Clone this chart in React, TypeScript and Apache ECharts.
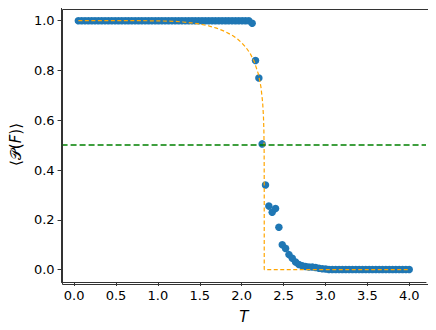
import React, { useEffect, useRef } from "react";
import * as echarts from "echarts";

const temps = [
  0.050, 0.090, 0.130, 0.170, 0.210, 0.249, 0.289, 0.329, 0.369, 0.409,
  0.449, 0.489, 0.529, 0.569, 0.609, 0.648, 0.688, 0.728, 0.768, 0.808,
  0.848, 0.888, 0.928, 0.968, 1.008, 1.047, 1.087, 1.127, 1.167, 1.207,
  1.247, 1.287, 1.327, 1.367, 1.407, 1.446, 1.486, 1.526, 1.566, 1.606,
  1.646, 1.686, 1.726, 1.766, 1.806, 1.845, 1.885, 1.925, 1.965, 2.005,
  2.045, 2.085, 2.125, 2.165, 2.205, 2.244, 2.284, 2.324, 2.364, 2.404,
  2.444, 2.484, 2.524, 2.564, 2.604, 2.643, 2.683, 2.723, 2.763, 2.803,
  2.843, 2.883, 2.923, 2.963, 3.003, 3.042, 3.082, 3.122, 3.162, 3.202,
  3.242, 3.282, 3.322, 3.362, 3.402, 3.441, 3.481, 3.521, 3.561, 3.601,
  3.641, 3.681, 3.721, 3.761, 3.801, 3.840, 3.880, 3.920, 3.960, 4.000,
];

const measured = [
  1, 1, 1, 1, 1, 1, 1, 1, 1, 1,
  1, 1, 1, 1, 1, 1, 1, 1, 1, 1,
  1, 1, 1, 1, 1, 1, 1, 1, 1, 1,
  1, 1, 1, 1, 1, 1, 1, 1, 1, 1,
  1, 1, 1, 1, 1, 1, 1, 1, 1, 1,
  1, 1, 0.99, 0.84, 0.77, 0.505, 0.34, 0.255, 0.23, 0.245,
  0.17, 0.10, 0.085, 0.06, 0.045, 0.03, 0.02, 0.015, 0.012, 0.01,
  0.01, 0.008, 0.005, 0.003, 0.002, 0, 0, 0, 0, 0,
  0, 0, 0, 0, 0, 0, 0, 0, 0, 0,
  0, 0, 0, 0, 0, 0, 0, 0, 0, 0,
];

const theoryT = [
  0.05, 0.8, 1.0, 1.1, 1.2, 1.3, 1.4, 1.5, 1.6, 1.7, 1.8, 1.9, 1.95, 2.0,
  2.05, 2.1, 2.15, 2.2, 2.23, 2.25, 2.26, 2.265, 2.268, 2.269, 2.2691, 4.0,
];
const theoryM = [
  1, 1, 0.9993, 0.9985, 0.9972, 0.9948, 0.9914, 0.9865, 0.9796, 0.9701,
  0.9569, 0.9383, 0.9262, 0.9113, 0.8928, 0.8688, 0.8357, 0.7848, 0.7331,
  0.6718, 0.6134, 0.5564, 0.474, 0.35, 0, 0,
];

const threshold = 0.5;
const xTicks = [0, 0.5, 1, 1.5, 2, 2.5, 3, 3.5, 4];
const yTicks = [0, 0.2, 0.4, 0.6, 0.8, 1.0];

const FONT = "DejaVu Sans, Noto Sans, sans-serif";

export default function App() {
  const ref = useRef<HTMLDivElement>(null);
  useEffect(() => {
    if (!ref.current) return;
    const chart = echarts.init(ref.current, undefined, { renderer: "svg" });
    chart.setOption({
      animation: false,
      grid: { left: 60, right: 10, top: 7, bottom: 48 },
      xAxis: {
        type: "value",
        min: -0.15,
        max: 4.2,
        interval: 0.5,
        name: "T",
        nameLocation: "middle",
        nameGap: 27,
        nameTextStyle: { fontFamily: FONT, fontSize: 15, fontStyle: "italic", color: "#000" },
        axisLine: { onZero: false, lineStyle: { color: "#333", width: 1 } },
        axisTick: { show: true, length: 4, inside: false, lineStyle: { color: "#333" }, customValues: xTicks },
        axisLabel: {
          fontFamily: FONT, fontSize: 13, color: "#000", margin: 7,
          customValues: xTicks,
          formatter: (v: number) => v.toFixed(1),
        },
        splitLine: { show: false },
      },
      yAxis: {
        type: "value",
        min: -0.05,
        max: 1.055,
        name: "⟨𝒫({i|F})⟩",
        nameLocation: "middle",
        nameGap: 37,
        nameRotate: 90,
        nameTextStyle: {
          fontFamily: FONT, fontSize: 15, color: "#000",
          rich: { i: { fontFamily: FONT, fontSize: 15, fontStyle: "italic", color: "#000" } },
        },
        axisLine: { show: true, onZero: false, lineStyle: { color: "#333", width: 1 } },
        axisTick: { show: true, length: 4, inside: false, lineStyle: { color: "#333" }, customValues: yTicks },
        axisLabel: {
          fontFamily: FONT, fontSize: 13, color: "#000", margin: 7,
          customValues: yTicks,
          formatter: (v: number) => v.toFixed(1),
        },
        splitLine: { show: false },
      },
      graphic: [
        {
          type: "rect",
          left: 60,
          top: 7,
          shape: { width: 366, height: 275 },
          style: { fill: "none", stroke: "#333", lineWidth: 1 },
          silent: true,
          z: 100,
        },
      ],
      series: [
        {
          type: "scatter",
          data: temps.map((t, i) => [t, measured[i]]),
          symbolSize: 7.5,
          itemStyle: { color: "#1f77b4", opacity: 1 },
          z: 2,
        },
        {
          type: "line",
          data: theoryT.map((t, i) => [t, theoryM[i]]),
          showSymbol: false,
          symbol: "none",
          lineStyle: { color: "#FFA500", width: 1.2, type: [4, 2.5] },
          z: 3,
        },
        {
          type: "line",
          data: [],
          markLine: {
            silent: true,
            symbol: "none",
            label: { show: false },
            lineStyle: { color: "#008000", width: 1.5, type: [6, 3] },
            data: [{ yAxis: threshold }],
          },
          z: 4,
        },
      ],
    });
    return () => chart.dispose();
  }, []);
  return <div ref={ref} style={{ width: 436, height: 330, margin: -8 }} />;
}
